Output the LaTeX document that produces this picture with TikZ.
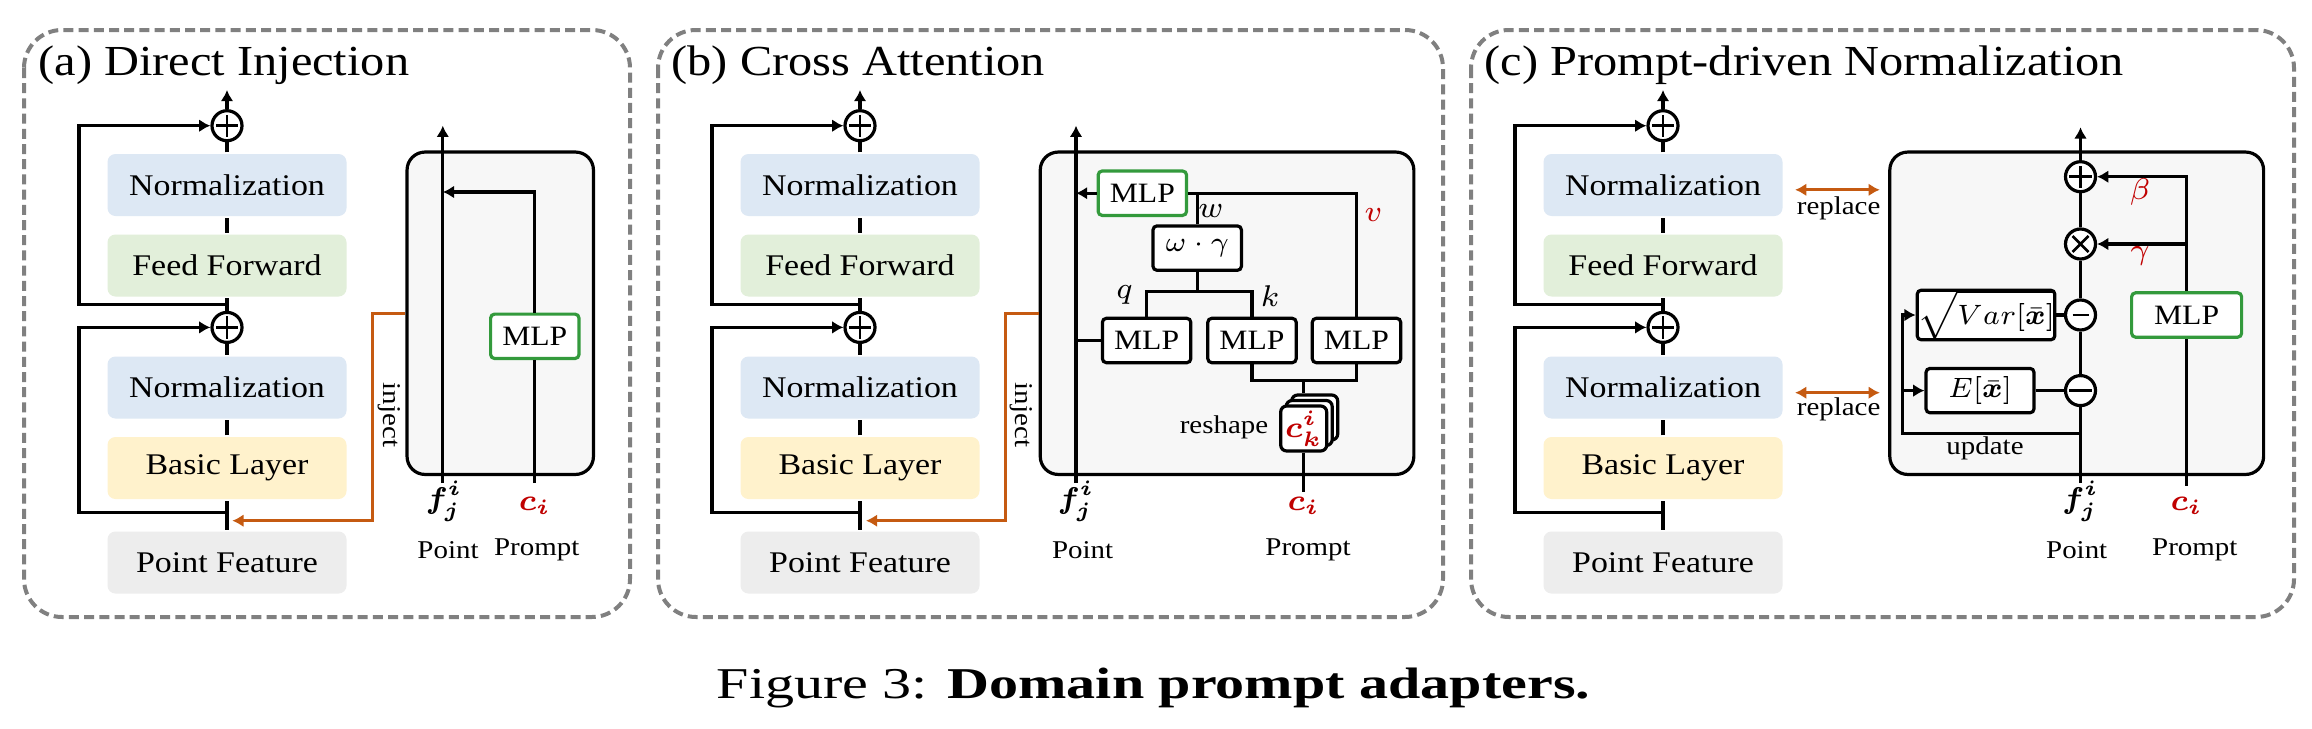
\RequirePackage{fix-cm}
\documentclass[tikz,border=0pt]{standalone}
\usepackage{bm}
\usepackage{fontspec}
\setmainfont[FakeStretch=1.13]{Liberation Serif}
\newfontfamily\capfont[FakeStretch=1.32]{Liberation Serif}
\usetikzlibrary{arrows.meta,positioning}

\definecolor{normblue}{HTML}{DDE8F4}
\definecolor{ffgreen}{HTML}{E2EFDA}
\definecolor{basicyellow}{HTML}{FFF2CC}
\definecolor{featgray}{HTML}{EDEDED}
\definecolor{panelgray}{HTML}{F7F7F7}
\definecolor{injorange}{HTML}{C55A11}
\definecolor{promptred}{HTML}{C00000}
\definecolor{mlpgreen}{HTML}{339A3C}
\definecolor{framegray}{HTML}{808080}

\newcommand{\boxfont}{\fontsize{7.5}{9}\selectfont}
\newcommand{\mlpfont}{\fontsize{7}{8.4}\selectfont}
\newcommand{\lblfont}{\fontsize{6.4}{7.6}\selectfont}
\newcommand{\symfont}{\fontsize{7.5}{9}\selectfont}

\tikzset{
  panelframe/.style={draw=framegray, line width=1pt, dash pattern=on 2.5pt off 1.3pt, rounded corners=9.5pt},
  paneltitle/.style={anchor=base west, inner sep=0pt, font=\fontsize{10.7}{12.8}\selectfont},
  blk/.style={rounded corners=2pt, minimum width=59.75pt, minimum height=15.5pt, inner sep=0pt, font=\boxfont},
  adapter/.style={draw, line width=0.8pt, fill=panelgray, rounded corners=4.5pt, minimum height=80.6pt, inner sep=0pt},
  mlpbox/.style={draw, line width=0.8pt, fill=white, rounded corners=1pt, minimum width=22.1pt, minimum height=11.1pt, inner sep=0pt, font=\mlpfont},
  stackbox/.style={draw, line width=0.8pt, fill=white, rounded corners=1.5pt, minimum width=11.5pt, minimum height=11.25pt, inner sep=0pt},
  opcirc/.style={draw, circle, line width=0.8pt, fill=white, minimum size=7.5pt, inner sep=0pt},
  opplus/.style={path picture={\draw[line width=0.65pt]
    ([xshift=-2.8pt]path picture bounding box.center) -- ([xshift=2.8pt]path picture bounding box.center)
    ([yshift=-2.8pt]path picture bounding box.center) -- ([yshift=2.8pt]path picture bounding box.center);}},
  optimes/.style={path picture={\draw[line width=0.65pt]
    ([shift={(-2pt,-2pt)}]path picture bounding box.center) -- ([shift={(2pt,2pt)}]path picture bounding box.center)
    ([shift={(-2pt,2pt)}]path picture bounding box.center) -- ([shift={(2pt,-2pt)}]path picture bounding box.center);}},
  opminus/.style={path picture={\draw[line width=0.65pt]
    ([xshift=-2.8pt]path picture bounding box.center) -- ([xshift=2.8pt]path picture bounding box.center);}},
  opdiv/.style={path picture={\draw[line width=0.6pt]
    ([xshift=-2pt]path picture bounding box.center) -- ([xshift=2pt]path picture bounding box.center);
    \fill ([yshift=1.7pt]path picture bounding box.center) circle (0.55pt)
          ([yshift=-1.7pt]path picture bounding box.center) circle (0.55pt);}},
  inj/.style={draw=injorange, line width=0.8pt},
  lbl/.style={inner sep=0pt, font=\lblfont},
  vecl/.style={inner sep=0pt, font=\symfont},
}

\begin{document}
\begin{tikzpicture}[x=0.25pt, y=-0.25pt, line width=0.8pt, >={Latex[length=2.8pt,width=3.2pt]}]
  \fill[white] (0,0) rectangle (2312,728);
  \useasboundingbox (0,0) rectangle (2312,728);
  % the three adapter variants, each in its own dashed frame
  \draw[panelframe] (24,30) rectangle (630,617);
  \draw[panelframe] (658,30) rectangle (1443,617);
  \draw[panelframe] (1471,30) rectangle (2294,617);
  \node[paneltitle] (a-title) at (37,75) {(a) Direct Injection};
  \node[paneltitle] (b-title) at (670,75) {(b) Cross Attention};
  \node[paneltitle] (c-title) at (1483,75) {(c) Prompt-driven Normalization};

  % backbone block, identical in every panel
  \foreach \p/\cx in {a/227,b/860,c/1663} {
    \node[blk, fill=normblue] (\p-norm1) at (\cx,185) {Normalization};
    \node[blk, fill=ffgreen] (\p-ff) at (\cx,265.5) {Feed Forward};
    \node[blk, fill=normblue] (\p-norm2) at (\cx,387.5) {Normalization};
    \node[blk, fill=basicyellow] (\p-basic) at (\cx,468) {Basic Layer};
    \node[blk, fill=featgray] (\p-feat) at (\cx,562.5) {Point Feature};
    \node[opcirc, opplus] (\p-add1) at (\cx,125.7) {};
    \node[opcirc, opplus] (\p-add2) at (\cx,327.4) {};
    \coordinate (\p-out) at (\cx,90);
    \coordinate (\p-skip1) at (\cx,304.5);
    \coordinate (\p-skip2) at (\cx,512.8);
    \draw (\p-feat) -- (\p-basic) -- (\p-norm2) -- (\p-add2) -- (\p-ff) -- (\p-norm1) -- (\p-add1);
    \draw[->] (\p-add1) -- (\p-out);
    \draw[->] (\p-skip1) -- ++(-148,0) |- (\p-add1.west);
    \draw[->] (\p-skip2) -- ++(-148,0) |- (\p-add2.west);
  }

  % (a) prompt added straight onto the point feature
  \node[adapter, minimum width=46.6pt] (a-adapter) at (500.25,313.25) {};
  \coordinate (a-fin) at (442.8,483);
  \coordinate (a-fout) at (442.8,125.7);
  \coordinate (a-join) at (442.8,192);
  \coordinate (a-cin) at (534.8,483);
  \coordinate (a-injend) at (232.3,520.7);
  \node[mlpbox, draw=mlpgreen] (a-mlp) at (534.8,336.3) {MLP};
  \draw[->] (a-fin) -- (a-fout);
  \draw (a-cin) -- (a-mlp);
  \draw[->] (a-mlp.north) |- (a-join);
  \draw[inj, ->] (a-adapter.west) -- (372.5,313.25) |- (a-injend);
  \node[lbl, rotate=-90] (a-injlbl) at (389,415) {inject};
  \node[vecl] (a-f) at (444,501) {$\bm{f}_{\bm{j}}^{\bm{i}}$};
  \node[vecl, text=promptred] (a-c) at (534.8,506) {$\bm{c}_{\bm{i}}$};
  \node[lbl] (a-point) at (448,550) {Point};
  \node[lbl] (a-prompt) at (536.7,550) {Prompt};

  % (b) cross attention between point and reshaped prompt
  \node[adapter, minimum width=93.4pt] (b-adapter) at (1227.05,313.25) {};
  \coordinate (b-fin) at (1076,483);
  \coordinate (b-fout) at (1076,125.7);
  \coordinate (b-injend) at (866,520.7);
  \node[mlpbox, draw=mlpgreen] (b-mlpw) at (1142.35,193.2) {MLP};
  \node[mlpbox] (b-wg) at (1197.2,248.1) {$\omega\cdot\gamma$};
  \node[mlpbox] (b-mlpq) at (1146.6,340.5) {MLP};
  \node[mlpbox] (b-mlpk) at (1252,340.5) {MLP};
  \node[mlpbox] (b-mlpv) at (1356.5,340.5) {MLP};
  \node[stackbox] (b-ck3) at (1314.7,417.5) {};
  \node[stackbox] (b-ck2) at (1309.2,423) {};
  \node[stackbox, text=promptred, font=\symfont] (b-ck) at (1303.7,428.5) {$\bm{c}_{\bm{k}}^{\bm{i}}$};
  \coordinate (b-qk) at (1197.2,291.8);
  \coordinate (b-kv) at (1303.7,380.4);
  \coordinate (b-cin) at (1303.7,492);
  \draw[->] (b-fin) -- (b-fout);
  \draw[->] (b-mlpw.west) -- (b-mlpw.west -| b-fin);
  \draw (b-mlpw.east) -| (b-mlpv.north);
  \draw (b-wg.north) -- (b-wg.north |- b-mlpw.east);
  \draw (b-wg.south) -- (b-qk);
  \draw (b-mlpq.north) |- (b-qk) -| (b-mlpk.north);
  \draw (b-mlpq.west -| b-fin) -- (b-mlpq.west);
  \draw (b-mlpk.south) |- (b-kv) -| (b-mlpv.south);
  \draw (b-kv) -- (b-kv |- b-ck3.north);
  \draw (b-ck.south) -- (b-cin);
  \draw[inj, ->] (b-adapter.west) -- (1005.6,313.25) |- (b-injend);
  \node[lbl, rotate=-90] (b-injlbl) at (1021.5,415) {inject};
  \node[vecl] (b-w) at (1211,211) {$w$};
  \node[vecl, text=promptred] (b-v) at (1373.5,215.5) {$v$};
  \node[vecl] (b-q) at (1124.5,294.6) {$q$};
  \node[vecl] (b-k) at (1270,296.5) {$k$};
  \node[lbl] (b-reshape) at (1224,427) {reshape};
  \node[vecl] (b-f) at (1076,501) {$\bm{f}_{\bm{j}}^{\bm{i}}$};
  \node[vecl, text=promptred] (b-c) at (1303.7,506) {$\bm{c}_{\bm{i}}$};
  \node[lbl] (b-point) at (1082.6,550) {Point};
  \node[lbl] (b-prompt) at (1308,550) {Prompt};

  % (c) normalization whose scale and shift come from the prompt
  \node[adapter, minimum width=93.45pt] (c-adapter) at (2076.7,313.25) {};
  \coordinate (c-fin) at (2080.5,483);
  \coordinate (c-fout) at (2080.5,127.3);
  \coordinate (c-cin) at (2186.6,485.5);
  \coordinate (c-upd) at (2080.5,433.7);
  \coordinate (c-loop) at (1902.7,433.7);
  \node[opcirc, opplus] (c-add) at (2080.5,176.7) {};
  \node[opcirc, optimes] (c-mul) at (2080.5,244) {};
  \node[opcirc, opdiv] (c-div) at (2080.5,315) {};
  \node[opcirc, opminus] (c-sub) at (2080.5,390.6) {};
  \node[mlpbox, draw=mlpgreen, minimum width=27.5pt] (c-mlp) at (2186.6,315) {MLP};
  \node[mlpbox, minimum width=30.2pt, font=\mlpfont] (c-var) at (1986,315) {$\sqrt{Var[\bar{\bm{x}}]}$};
  \node[mlpbox, minimum width=27pt, font=\mlpfont] (c-mean) at (1980,390.6) {$E[\bar{\bm{x}}]$};
  \draw (c-fin) -- (c-sub) -- (c-div) -- (c-mul) -- (c-add);
  \draw[->] (c-add) -- (c-fout);
  \draw (c-cin) -- (c-mlp);
  \draw[->] (c-mlp.north) |- (c-add.east);
  \draw[->] (c-mlp.north |- c-mul.east) -- (c-mul.east);
  \draw (c-var) -- (c-div);
  \draw (c-mean) -- (c-sub);
  \draw[->] (c-upd) -- (c-loop) |- (c-var.west);
  \draw[->] (c-loop |- c-mean.west) -- (c-mean.west);
  \draw[inj, <->] ([shift={(2.75pt,-1.2pt)}]c-norm1.east) -- ([shift={(-2.1pt,-1.2pt)}]c-adapter.west |- c-norm1.east);
  \draw[inj, <->] ([shift={(2.75pt,-1.3pt)}]c-norm2.east) -- ([shift={(-2.1pt,-1.3pt)}]c-adapter.west |- c-norm2.east);
  \node[lbl] (c-rep1) at (1838.6,208.4) {replace};
  \node[lbl] (c-rep2) at (1838.6,409.2) {replace};
  \node[lbl] (c-updlbl) at (1985,448.8) {update};
  \node[vecl, text=promptred] (c-beta) at (2140,191.8) {$\beta$};
  \node[vecl, text=promptred] (c-gamma) at (2140,256.2) {$\gamma$};
  \node[vecl] (c-f) at (2080.5,501) {$\bm{f}_{\bm{j}}^{\bm{i}}$};
  \node[vecl, text=promptred] (c-c) at (2186.6,506) {$\bm{c}_{\bm{i}}$};
  \node[lbl] (c-point) at (2076.7,550) {Point};
  \node[lbl] (c-prompt) at (2194.8,550) {Prompt};

  \node[anchor=base, inner sep=0pt, font=\capfont\fontsize{11}{13}\selectfont] (caption) at (1153.5,698)
    {Figure 3: \textbf{Domain prompt adapters.}};
\end{tikzpicture}
\end{document}
